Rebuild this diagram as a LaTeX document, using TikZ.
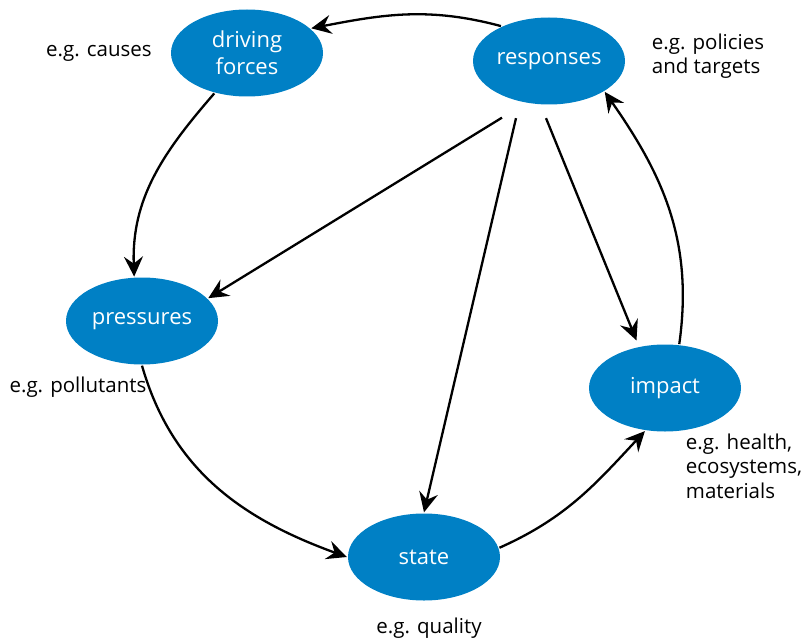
\documentclass[tikz,border=0pt]{standalone}
\usepackage{fontspec}
\setmainfont{Open Sans}
\usetikzlibrary{shapes.geometric, positioning, arrows.meta}
\definecolor{dpsirblue}{RGB}{0,128,197}
\newcommand{\egcauses}{e.g. causes}
\newcommand{\egpolicies}{e.g. policies\\and targets}
\newcommand{\egpollutants}{e.g. pollutants}
\newcommand{\eghealth}{e.g. health,\\ecosystems,\\materials}
\newcommand{\egquality}{e.g. quality}

\begin{document}
\begin{tikzpicture}[
        x=1pt, y=-1pt,
        node distance=100pt,
        on grid,
        >={Stealth[length=20pt, width=19pt, inset=7pt]},
        line width=2.3pt,
        phase/.style={ellipse, fill=dpsirblue, text=white, minimum width=152pt, minimum height=87pt, inner sep=0pt, align=center, font=\fontsize{22}{27}\selectfont},
        note/.style={align=left, font=\fontsize{20.5}{24.5}\selectfont}]
        \useasboundingbox (0,0) rectangle (802,639);
        % Phases
        \node[phase] (responses) at (549,61) {responses};
        \node[phase, above left=8pt and 302pt of responses] (driving) {driving\\forces};
        \node[phase, below left=268pt and 105pt of driving] (pressures) {pressures};
        \node[phase, below right=236pt and 282pt of pressures] (state) {state};
        \node[phase, above right=169pt and 241pt of state] (impact) {impact};
        % Notes
        \node[note, above left=0pt and 148pt of driving] (causes) {\egcauses};
        \node[note, above right=5pt and 159pt of responses] (policies) {\egpolicies};
        \node[note, below left=66pt and 64pt of pressures] (pollutants) {\egpollutants};
        \node[note, below right=78pt and 79pt of impact] (health) {\eghealth};
        \node[note, below right=71pt and 5pt of state] (quality) {\egquality};
        % Fan below responses
        \coordinate[below left=12pt and 47pt of responses.south] (fan_a);
        \coordinate[below left=12.5pt and 33pt of responses.south] (fan_b);
        \coordinate[below left=12.5pt and 3pt of responses.south] (fan_c);
        % Edges
        \draw[->] (responses.144) to[out=165, in=11] (driving.21);
        \draw[->] (driving.231) to[out=229, in=92] (pressures.100);
        \draw[->] (pressures.270) to[out=-74, in=160] (state.180);
        \draw[->] (state.7) to[out=24, in=227] (impact.245);
        \draw[->] (impact.72) to[out=82, in=-55] (responses.-29);

        \draw[->] (fan_a) -- (pressures.19);
        \draw[->] (fan_b) -- (state.north);
        \draw[->, shorten >=6pt] (fan_c) -- (impact.122);
      \end{tikzpicture}
\end{document}
